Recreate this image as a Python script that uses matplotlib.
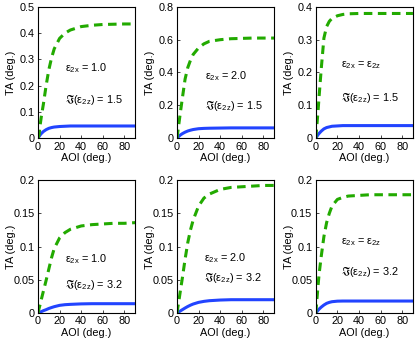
import matplotlib
matplotlib.use("Agg")
import matplotlib.pyplot as plt
from matplotlib.ticker import FuncFormatter

plt.rcParams['font.family'] = ['Liberation Sans', 'DejaVu Sans']
plt.rcParams['mathtext.fontset'] = 'custom'
plt.rcParams['mathtext.rm'] = 'Liberation Sans'
plt.rcParams['mathtext.it'] = 'Liberation Sans:italic'
plt.rcParams['mathtext.default'] = 'regular'

# AOI sample points (deg.)
aoi = [0, 1, 2, 3, 5, 7.5, 10, 12.5, 15, 20, 25, 30, 40, 50, 60, 70, 80, 90]

# TA (deg.), green dashed / blue solid
green_1 = [0, 0.013, 0.05, 0.08, 0.13, 0.2, 0.26, 0.305, 0.34, 0.38, 0.40, 0.412, 0.425, 0.43, 0.433, 0.434, 0.435, 0.435]
blue_1 = [0, 0.006, 0.012, 0.017, 0.025, 0.032, 0.037, 0.040, 0.042, 0.044, 0.045, 0.046, 0.046, 0.046, 0.046, 0.046, 0.046, 0.046]
green_2 = [0, 0.05, 0.1, 0.15, 0.245, 0.36, 0.43, 0.475, 0.51, 0.55, 0.575, 0.59, 0.6, 0.606, 0.608, 0.61, 0.61, 0.61]
blue_2 = [0, 0.006, 0.012, 0.018, 0.027, 0.036, 0.043, 0.048, 0.052, 0.057, 0.059, 0.06, 0.061, 0.062, 0.062, 0.062, 0.062, 0.062]
green_3 = [0, 0.04, 0.08, 0.125, 0.21, 0.305, 0.34, 0.356, 0.365, 0.373, 0.377, 0.379, 0.38, 0.38, 0.38, 0.38, 0.38, 0.38]
blue_3 = [0, 0.005, 0.01, 0.014, 0.021, 0.028, 0.032, 0.034, 0.036, 0.037, 0.038, 0.038, 0.038, 0.038, 0.038, 0.038, 0.038, 0.038]
green_4 = [0, 0.007, 0.013, 0.02, 0.033, 0.049, 0.066, 0.083, 0.097, 0.113, 0.121, 0.126, 0.131, 0.133, 0.134, 0.135, 0.135, 0.136]
blue_4 = [0, 0.0007, 0.0014, 0.002, 0.0035, 0.005, 0.0068, 0.0082, 0.0095, 0.0115, 0.0125, 0.013, 0.0137, 0.014, 0.014, 0.014, 0.014, 0.014]
green_5 = [0, 0.011, 0.021, 0.032, 0.053, 0.081, 0.106, 0.125, 0.14, 0.161, 0.173, 0.179, 0.186, 0.189, 0.19, 0.191, 0.192, 0.192]
blue_5 = [0, 0.001, 0.002, 0.003, 0.005, 0.0075, 0.0098, 0.0118, 0.0135, 0.016, 0.0175, 0.0185, 0.0195, 0.02, 0.02, 0.02, 0.02, 0.02]
green_6 = [0, 0.02, 0.04, 0.058, 0.085, 0.115, 0.136, 0.15, 0.161, 0.171, 0.174, 0.176, 0.177, 0.178, 0.178, 0.178, 0.178, 0.178]
blue_6 = [0, 0.002, 0.004, 0.0058, 0.0088, 0.012, 0.0145, 0.016, 0.017, 0.0178, 0.018, 0.018, 0.018, 0.018, 0.018, 0.018, 0.018, 0.018]

greens = [green_1, green_2, green_3, green_4, green_5, green_6]
blues = [blue_1, blue_2, blue_3, blue_4, blue_5, blue_6]

ymax = [0.5, 0.8, 0.4, 0.2, 0.2, 0.2]
ystep = [0.1, 0.2, 0.1, 0.05, 0.05, 0.05]
eps_labels = [r'$\varepsilon_{2x}$ = 1.0', r'$\varepsilon_{2x}$ = 2.0', r'$\varepsilon_{2x}$ = $\varepsilon_{2z}$'] * 2
im_labels = [r'$\Im(\varepsilon_{2z})$ = 1.5'] * 3 + [r'$\Im(\varepsilon_{2z})$ = 3.2'] * 3

# text positions in axes fraction
text_x = [0.276, 0.286, 0.26, 0.276, 0.276, 0.26]
eps_y = [0.535, 0.475, 0.555, 0.406, 0.416, 0.536]
im_y = [0.29, 0.247, 0.308, 0.21, 0.267, 0.31]

fig = plt.figure(figsize=(4.15, 3.46), dpi=100)
lefts = [0.0916, 0.4265, 0.761]
bottoms = [0.601, 0.0954]
heights = [0.379, 0.384]

fmt = FuncFormatter(lambda v, p: '0' if abs(v) < 1e-9 else ('%g' % round(v, 3)))
fs = 7.8

for i in range(6):
    r, c = divmod(i, 3)
    ax = fig.add_axes([lefts[c], bottoms[r], 0.234, heights[r]])
    ax.plot(aoi, blues[i], color='#2244ff', lw=2.2)
    ax.plot(aoi, greens[i], color='#22aa00', lw=2.2, dashes=(2.8, 1.8))
    ax.set_xlim(0, 90)
    ax.set_ylim(0, ymax[i])
    ax.set_xticks([0, 20, 40, 60, 80])
    n = int(round(ymax[i] / ystep[i]))
    ax.set_yticks([k * ystep[i] for k in range(n + 1)])
    ax.yaxis.set_major_formatter(fmt)
    ax.tick_params(direction='in', length=2.5, width=0.5, labelsize=fs, pad=2.5)
    for s in ax.spines.values():
        s.set_linewidth(0.8)
    ax.set_xlabel('AOI (deg.)', fontsize=fs, labelpad=1)
    ax.set_ylabel('TA (deg.)', fontsize=fs)
    ax.yaxis.set_label_coords(-0.225, 0.5)
    ax.text(text_x[i], eps_y[i], eps_labels[i], transform=ax.transAxes,
            fontsize=fs, va='center', ha='left')
    ax.text(text_x[i], im_y[i], im_labels[i], transform=ax.transAxes,
            fontsize=fs, va='center', ha='left')

fig.savefig('out.png', dpi=100)
